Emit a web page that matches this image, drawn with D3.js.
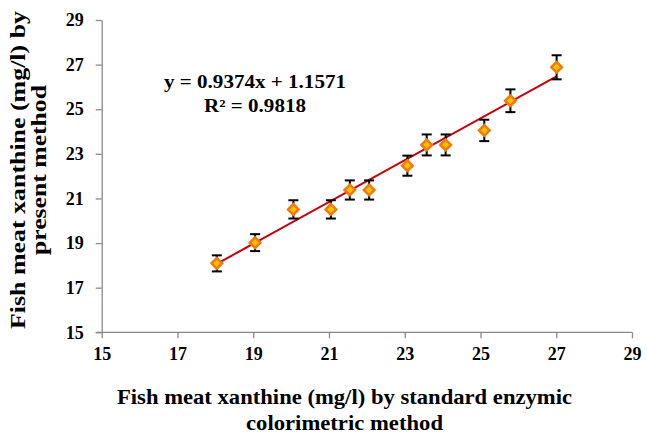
<!DOCTYPE html>
<html><head><meta charset="utf-8">
<script src="https://cdn.jsdelivr.net/npm/d3@7"></script>
<style>body{margin:0;background:#fff;}svg{display:block;}</style>
</head><body>
<svg id="chart" width="647" height="434"></svg>
<script>
const xValues = [18.04, 19.05, 20.06, 21.05, 21.55, 22.06, 23.07, 23.58, 24.08, 25.10, 25.79, 27.01];
const yValues = [18.09, 19.02, 20.51, 20.51, 21.38, 21.38, 22.47, 23.40, 23.40, 24.05, 25.38, 26.88];
const yErrors = [0.36, 0.38, 0.41, 0.41, 0.43, 0.43, 0.45, 0.47, 0.47, 0.48, 0.51, 0.54];
const xTicks = [15, 17, 19, 21, 23, 25, 27, 29];
const yTicks = [15, 17, 19, 21, 23, 25, 27, 29];
const slope = 0.9374, intercept = 1.1571;
const eqLines = ["y = 0.9374x + 1.1571", "R² = 0.9818"];
const xTitle = ["Fish meat xanthine (mg/l) by standard enzymic", "colorimetric method"];
const yTitle = ["Fish meat xanthine (mg/l) by", "present method"];

const svg = d3.select("#chart");
const font = "'Liberation Serif', 'Times New Roman', serif";
const x = d3.scaleLinear().domain([15, 29]).range([101.7, 632]);
const y = d3.scaleLinear().domain([15, 29]).range([332.3, 20]);
const axisColor = "#898989";

const gx = svg.append("g").attr("transform", `translate(0,${y(15)})`)
  .call(d3.axisBottom(x).tickValues(xTicks).tickSize(6).tickSizeOuter(0).tickPadding(9));
const gy = svg.append("g").attr("transform", `translate(${x(15)},0)`)
  .call(d3.axisLeft(y).tickValues(yTicks).tickSize(6).tickSizeOuter(0).tickPadding(12));
[gx, gy].forEach(g => {
  g.attr("font-family", font).attr("font-size", 18).attr("font-weight", "bold");
  g.select(".domain").attr("stroke", axisColor).attr("stroke-width", 1.3);
  g.selectAll(".tick line").attr("stroke", axisColor).attr("stroke-width", 1.3);
  g.selectAll(".tick text").attr("fill", "#000").style("font-family", font)
    .style("font-weight", "bold").style("font-size", "18px");
});
gx.select(".domain").attr("d", `M${x(15)-6},0H${x(29)}`);

const data = xValues.map((v, i) => ({x: v, y: yValues[i], e: yErrors[i]}));

// trendline
const x0 = d3.min(xValues), x1 = d3.max(xValues);
svg.append("line")
  .attr("x1", x(x0)).attr("y1", y(slope * x0 + intercept))
  .attr("x2", x(x1)).attr("y2", y(slope * x1 + intercept))
  .attr("stroke", "#C8000A").attr("stroke-width", 2);

// error bars
const eb = svg.append("g").attr("stroke", "#000").attr("stroke-width", 2);
data.forEach(d => {
  eb.append("line").attr("x1", x(d.x)).attr("x2", x(d.x)).attr("y1", y(d.y + d.e)).attr("y2", y(d.y - d.e));
  [d.y + d.e, d.y - d.e].forEach(v => eb.append("line")
    .attr("x1", x(d.x) - 5).attr("x2", x(d.x) + 5).attr("y1", y(v)).attr("y2", y(v)));
});

// markers
svg.append("g").selectAll("path").data(data).join("path")
  .attr("d", d3.symbol().type(d3.symbolDiamond2).size(72))
  .attr("transform", d => `translate(${x(d.x)},${y(d.y)})`)
  .attr("fill", "#FFC000").attr("stroke", "#F07A10").attr("stroke-width", 2.5);

// equation
const eqW = [182, 102];
svg.append("g").selectAll("text").data(eqLines).join("text")
  .attr("x", 255).attr("y", (d, i) => 87.5 + i * 24)
  .attr("text-anchor", "middle").style("font-family", font)
  .style("font-weight", "bold").style("font-size", "18px")
  .attr("textLength", (d, i) => eqW[i]).attr("lengthAdjust", "spacingAndGlyphs")
  .text(d => d);

// x title
const xtW = [455, 197];
svg.append("g").selectAll("text").data(xTitle).join("text")
  .attr("x", 344.5).attr("y", (d, i) => 404 + i * 25.5)
  .attr("text-anchor", "middle").style("font-family", font)
  .style("font-weight", "bold").style("font-size", "21px")
  .attr("textLength", (d, i) => xtW[i]).attr("lengthAdjust", "spacingAndGlyphs")
  .text(d => d);

// y title
const ytW = [318, 170];
svg.append("g").attr("transform", "translate(0,170) rotate(-90)")
  .selectAll("text").data(yTitle).join("text")
  .attr("x", 0).attr("y", (d, i) => 24.5 + i * 21)
  .attr("text-anchor", "middle").style("font-family", font)
  .style("font-weight", "bold").style("font-size", "21px")
  .attr("textLength", (d, i) => ytW[i]).attr("lengthAdjust", "spacingAndGlyphs")
  .text(d => d);
</script>
</body></html>
